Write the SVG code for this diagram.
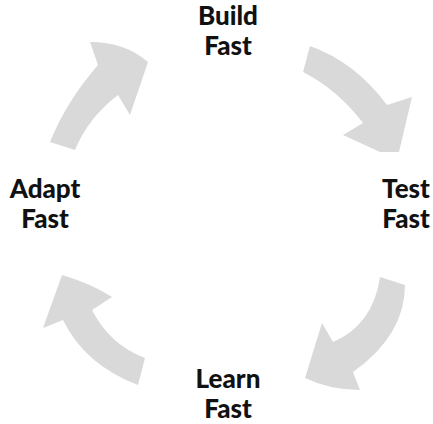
<svg xmlns="http://www.w3.org/2000/svg" width="433" height="424" viewBox="0 0 433 424">
<style>
.arrow{fill:#d9d9d9;stroke:none}
.lbl{font-family:Lato,"Liberation Sans",sans-serif;font-weight:900;font-size:26px;fill:#111;text-anchor:middle}
</style>
<rect width="433" height="424" fill="#fff"/>
<g id="connectors">
<path class="arrow" d="M 310,46 Q 355,62 387,105 L 412,97 L 399,152 L 380,152 L 343,135 L 363,123 Q 338,90 303,72 Z"/>
<path class="arrow" d="M 380,277 L 405,285 Q 405,335 353,372 L 360,390 Q 330,390 305,378 L 322,323 L 333,342 Q 373,325 380,277 Z"/>
<path class="arrow" d="M 138,385 Q 85,365 63,320 L 43,328 L 62,275 Q 90,283 112,297 L 92,310 Q 110,345 145,358 Z"/>
<path class="arrow" d="M 50,142 Q 66,102 98,65 L 90,42 Q 125,42 148,62 L 130,115 L 118,95 Q 88,118 75,150 Z"/>
</g>
<g id="build"><text class="lbl" x="228" y="25">Build</text><text class="lbl" x="228" y="55">Fast</text></g>
<g id="test"><text class="lbl" x="406" y="198">Test</text><text class="lbl" x="406" y="228">Fast</text></g>
<g id="learn"><text class="lbl" x="228" y="388">Learn</text><text class="lbl" x="228" y="418">Fast</text></g>
<g id="adapt"><text class="lbl" x="45" y="198">Adapt</text><text class="lbl" x="45" y="228">Fast</text></g>
</svg>
